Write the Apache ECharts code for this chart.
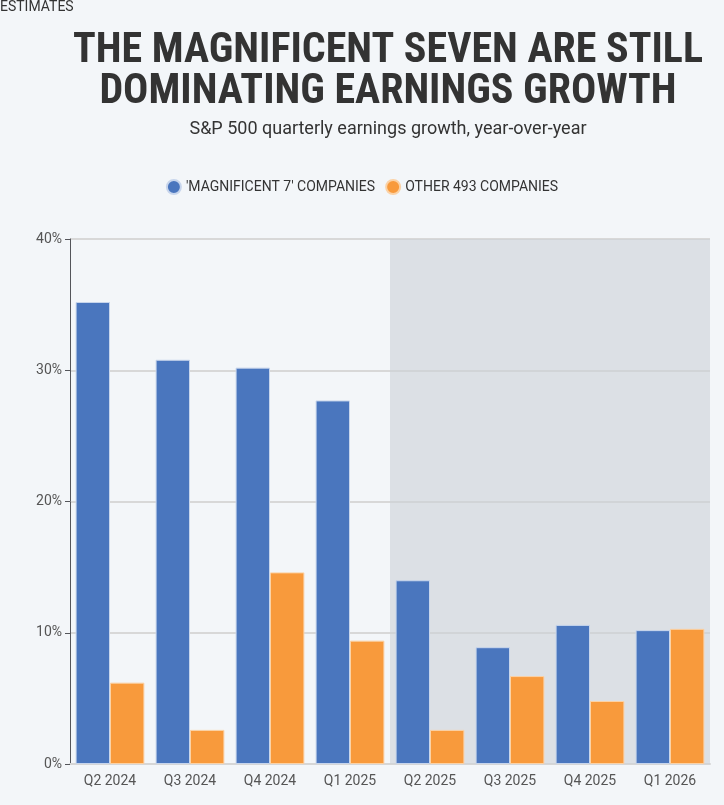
<!DOCTYPE html>
<html><head><meta charset="utf-8">
<script src="https://cdn.jsdelivr.net/npm/echarts@6/dist/echarts.min.js"></script>
<style>html,body{margin:0;padding:0;background:#f3f6f9}#c{width:724px;height:805px}</style>
</head><body><div id="c"></div>
<script>
const categories=['Q2 2024','Q3 2024','Q4 2024','Q1 2025','Q2 2025','Q3 2025','Q4 2025','Q1 2026'];
const mag7=[35.2,30.8,30.2,27.7,14.0,8.9,10.6,10.2];
const other493=[6.2,2.6,14.6,9.4,2.6,6.7,4.8,10.3];
const yTicks=[0,10,20,30,40];
const font='Roboto';
const chart=echarts.init(document.getElementById('c'));
chart.setOption({
  backgroundColor:'#f3f6f9',
  animation:false,
  title:[{text:'THE MAGNIFICENT SEVEN ARE STILL\nDOMINATING EARNINGS GROWTH',left:383,textAlign:'center',top:26,
    textStyle:{fontFamily:'Liberation Sans Narrow, Roboto Condensed, Roboto',fontWeight:'bold',fontSize:42,lineHeight:41,color:'#333'}},
    {text:'S&P 500 quarterly earnings growth, year-over-year',left:383,textAlign:'center',top:115,
    textStyle:{fontFamily:font,fontWeight:'normal',fontSize:18,color:'#333'}}],
  legend:{top:174,left:'center',itemGap:10,icon:'circle',itemWidth:14,itemHeight:14,
    textStyle:{fontFamily:'Liberation Sans Narrow, Roboto',fontSize:14,color:'#333'}},
  grid:{left:70,right:14,top:239,bottom:41},
  xAxis:[{type:'category',data:categories,axisLine:{lineStyle:{color:'#d6d6d6',width:2}},
    axisTick:{alignWithLabel:true,length:8,lineStyle:{color:'#d6d6d6',width:2}},
    axisLabel:{fontFamily:font,fontSize:14,color:'#555',margin:10}},
    {type:'value',min:0,max:8,show:false}],
  yAxis:{type:'value',min:0,max:40,interval:10,
    axisLabel:{formatter:v=>yTicks.includes(v)?v+'%':'',fontFamily:font,fontSize:14,color:'#555'},
    splitLine:{lineStyle:{color:'#d8d8d8',width:2}}},
  series:[
    {name:"'MAGNIFICENT 7' COMPANIES",type:'bar',data:mag7,barGap:'0%',barCategoryGap:'14%',
      itemStyle:{color:'#4a76be',borderColor:'#c7d5ec',borderWidth:1}},
    {name:'OTHER 493 COMPANIES',type:'bar',data:other493,
      itemStyle:{color:'#f89a3c',borderColor:'#fbd2a6',borderWidth:1}},
    {type:'line',xAxisIndex:1,data:[],z:10,silent:true,
      markArea:{silent:true,itemStyle:{color:'rgba(205,210,215,0.6)'},
        label:{show:true,position:'insideTopLeft',offset:[0,0],distance:[10,8],fontFamily:'Liberation Sans Narrow, Roboto',fontSize:14,color:'#333'},
        data:[[{xAxis:4,name:'ESTIMATES'},{xAxis:8}]]}}
  ]
});
</script></body></html>
